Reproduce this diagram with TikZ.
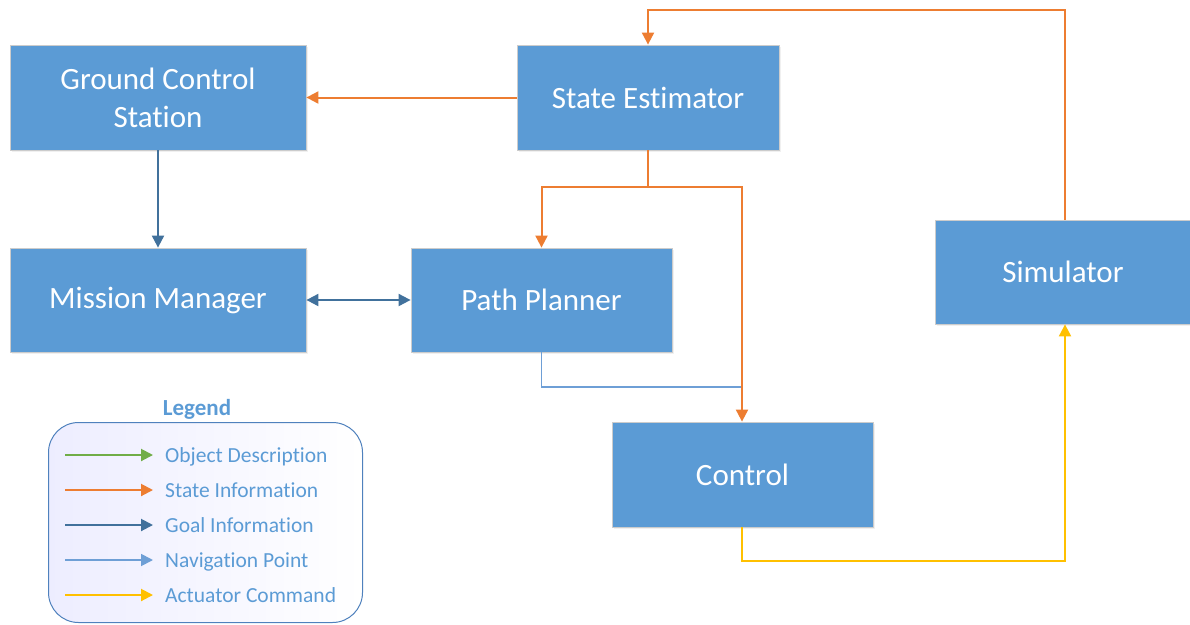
\documentclass[tikz,border=0pt]{standalone}
\usepackage{fontspec}
\setmainfont{Carlito}[RawFeature=-liga]
\usetikzlibrary{arrows.meta,shadows,positioning}
\definecolor{boxblue}{HTML}{5B9BD5}
\definecolor{stateor}{HTML}{ED7D31}
\definecolor{goalblue}{HTML}{41719C}
\definecolor{navblue}{HTML}{6E9FD6}
\definecolor{actyel}{HTML}{FFC000}
\definecolor{objgreen}{HTML}{70AD47}
\definecolor{legborder}{HTML}{4F81BD}
\tikzset{
  blk/.style={rectangle, fill=boxblue, draw=black!20, line width=0.8pt, text=white,
    font=\fontsize{31}{38}\selectfont, align=center, inner sep=0pt,
    drop shadow={opacity=0.12, shadow xshift=1.5pt, shadow yshift=-1.5pt}},
  tip/.style={-{Triangle[length=12pt,width=12pt]}},
  stateln/.style={tip, draw=stateor, line width=2pt},
  goalln/.style={tip, draw=goalblue, line width=2pt},
  navln/.style={draw=navblue, line width=1.8pt},
  actln/.style={tip, draw=actyel, line width=2pt},
  objln/.style={tip, draw=objgreen, line width=2pt},
  legtxt/.style={text=boxblue, font=\fontsize{21.5}{26}\selectfont, anchor=base west, inner sep=0pt}
}
\begin{document}
\begin{tikzpicture}[x=1pt,y=-1pt]
\useasboundingbox (0,0) rectangle (1190,624);
% boxes
\node[blk, minimum width=296pt, minimum height=105pt] (gcs) at (158,97.5) {Ground Control\\Station};
\node[blk, minimum width=262pt, minimum height=105pt] (se) at (648,97.5) {State Estimator};
\node[blk, minimum width=296pt, minimum height=104pt] (mm) at (158,300) {Mission Manager};
\node[blk, minimum width=261pt, minimum height=104pt] (pp) at (541.5,300) {Path Planner};
\node[blk, minimum width=256pt, minimum height=104pt] (sim) at (1063,272) {Simulator};
\node[blk, minimum width=261pt, minimum height=105pt] (ctl) at (742.5,474.5) {Control};
% junction coordinates
\coordinate (split) at (648,187);
\coordinate (navj) at (742,387);
% connectors
\draw[stateln] (se.west) -- (gcs.east);
\draw[goalln] (gcs.south) -- (mm.north);
\draw[goalln, {Triangle[length=12pt,width=12pt]}-{Triangle[length=12pt,width=12pt]}] (mm.east) -- (pp.east -| pp.west);
\draw[navln] (pp.south) |- (navj);
\draw[stateln] (se.south) -- (split) -| (pp.north);
\draw[stateln] (split) -| (ctl.north -| navj);
\draw[actln] (ctl.south -| navj) -- ++(0,34) -| (sim.south -| 1065,0);
\draw[stateln] (sim.north -| 1065,0) -- (1065,10) -| (se.north);
% legend
\node[text=boxblue, font=\bfseries\fontsize{23}{27}\selectfont] (legt) at (197,409) {Legend};
\node[draw=legborder, line width=1pt, rounded corners=30pt, left color=blue!7, right color=white,
  minimum width=314pt, minimum height=200pt, anchor=north west, inner sep=0pt] (legbox) at (48,422) {};
\foreach \y/\st/\tx [count=\i] in {455/objln/Object Description,490/stateln/State Information,525/goalln/Goal Information,560/navln/Navigation Point,595/actln/Actuator Command}{
  \coordinate (la\i) at (65,\y);
  \node[legtxt] (lt\i) at (165,\y+7) {\tx};
  \draw[\st, tip] (la\i) -- (153,\y);
}
\end{tikzpicture}
\end{document}
